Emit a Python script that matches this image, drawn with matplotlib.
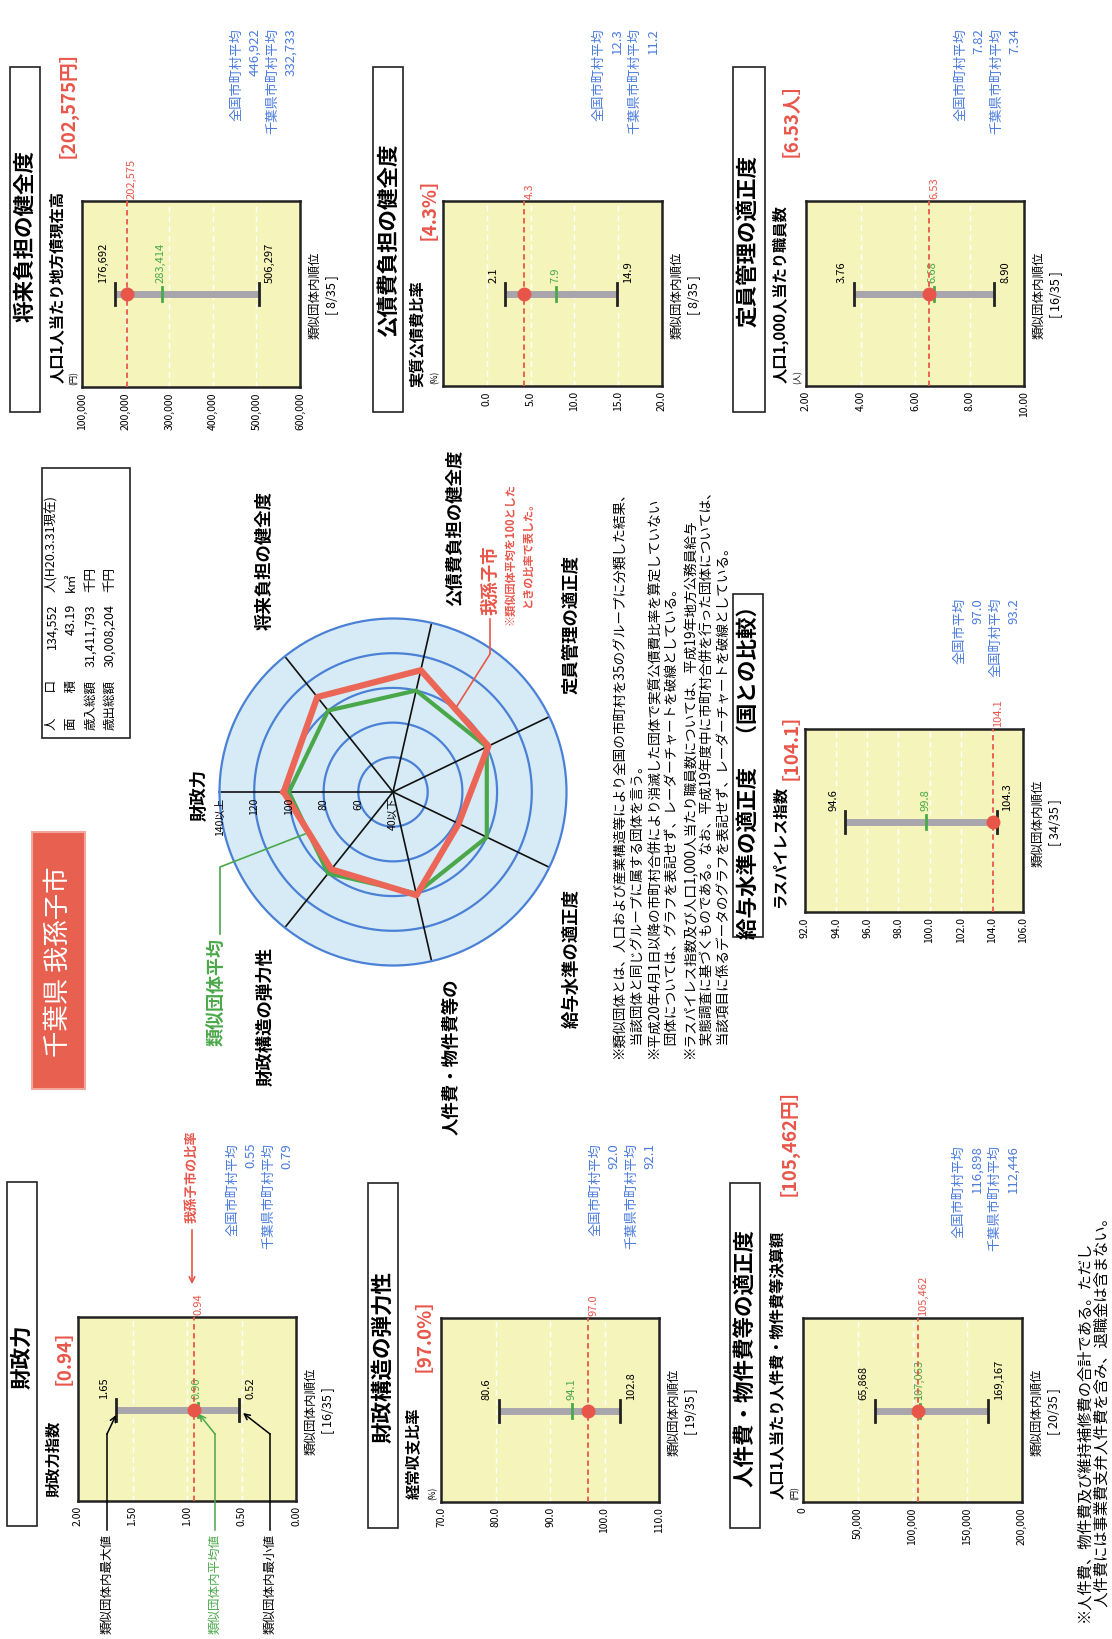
import numpy as np
import matplotlib
matplotlib.use('Agg')
import matplotlib.pyplot as plt
from matplotlib.patches import Rectangle

plt.rcParams['font.family'] = ['Noto Sans CJK JP', 'DejaVu Sans']

W, H = 1112, 1640
RED = '#e8564a'
GREEN = '#4aa84a'
BLUE = '#4a7bdc'
YELLOW = '#f5f4bb'
GRAY = '#a8a5ad'

# ---- panel data (order: 財政力, 財政構造, 人件費, 将来負担, 公債費, 定員管理, 給与水準)
titles = ['財政力', '財政構造の弾力性', '人件費・物件費等の適正度',
          '将来負担の健全度', '公債費負担の健全度', '定員管理の適正度',
          '給与水準の適正度　（国との比較）']
subtitles = ['財政力指数', '経常収支比率', '人口1人当たり人件費・物件費等決算額',
             '人口1人当たり地方債現在高', '実質公債費比率', '人口1,000人当たり職員数',
             'ラスパイレス指数']
city_tags = ['［0.94］', '［97.0%］', '［105,462円］', '［202,575円］',
             '［4.3%］', '［6.53人］', '［104.1］']
city = [0.94, 97.0, 105462, 202575, 4.3, 6.53, 104.1]
grp_min = [0.52, 80.6, 65868, 176692, 2.1, 3.76, 94.6]
grp_max = [1.65, 102.8, 169167, 506297, 14.9, 8.90, 104.3]
grp_avg = [0.90, 94.1, 107063, 283414, 7.9, 6.68, 99.8]
ranks = ['16/35', '19/35', '20/35', '8/35', '8/35', '16/35', '34/35']
nat_names = ['全国市町村平均'] * 6 + ['全国市平均']
pref_names = ['千葉県市町村平均'] * 6 + ['全国町村平均']
nat_avg = [0.55, 92.0, 116898, 446922, 12.3, 7.82, 97.0]
pref_avg = [0.79, 92.1, 112446, 332733, 11.2, 7.34, 93.2]
fmts = ['{:.2f}', '{:.1f}', '{:,.0f}', '{:,.0f}', '{:.1f}', '{:.2f}', '{:.1f}']
limits = [(2.0, 0.0), (70, 110), (0, 200000), (100000, 600000), (-5, 20), (2, 10), (92, 106)]
ticks = [[2.0, 1.5, 1.0, 0.5, 0.0],
         [70, 80, 90, 100, 110],
         [0, 50000, 100000, 150000, 200000],
         [100000, 200000, 300000, 400000, 500000, 600000],
         [0, 5, 10, 15, 20],
         [2, 4, 6, 8, 10],
         [92, 94, 96, 98, 100, 102, 104, 106]]
units = ['', '(%)', '(円)', '(円)', '(%)', '(人)', '']

# ---- radar data
radar_labels = ['財政力', '将来負担の健全度', '公債費負担の健全度', '定員管理の適正度',
                '給与水準の適正度', '人件費・物件費等の', '財政構造の弾力性']
radar_city = [103, 110, 112, 101, 82, 101, 97]
radar_group = [100, 100, 100, 100, 100, 100, 100]
ring_values = [40, 60, 80, 100, 120, 140]
ring_labels = ['40以下', '60', '80', '100', '120', '140以上']

# ---- info box
info_labels = ['人　　口', '面　　積', '歳入総額', '歳出総額']
info_values = ['134,552', '43.19', '31,411,793', '30,008,204']
info_units = ['人(H20.3.31現在)', 'k㎡', '千円', '千円']

notes = ['※類似団体とは、人口および産業構造等により全国の市町村を35のグループに分類した結果、',
         '　当該団体と同じグループに属する団体を言う。',
         '※平成20年4月1日以降の市町村合併により消滅した団体で実質公債費比率を算定していない',
         '　団体については、グラフを表記せず、レーダーチャートを破線としている。',
         '※ラスパイレス指数及び人口1,000人当たり職員数については、平成19年地方公務員給与',
         '　実態調査に基づくものである。なお、平成19年度中に市町村合併を行った団体については、',
         '　当該項目に係るデータのグラフを表記せず、レーダーチャートを破線としている。']
foot = ['※人件費、物件費及び維持補修費の合計である。ただし',
        '　人件費には事業費支弁人件費を含み、退職金は含まない。']

# ---- layout in pixels of the (rotated) page
boxes = [(78, 1318, 296, 1502), (441, 1319, 659, 1503), (803, 1319, 1022, 1503),
         (82, 202, 300, 388), (443, 202, 662, 387), (806, 202, 1024, 387),
         (805, 730, 1023, 913)]
bar_y = [1411, 1412, 1412, 295, 295, 295, 823]
title_boxes = [(7, 1183, 37, 1527), (368, 1184, 398, 1529), (730, 1184, 760, 1529),
               (10, 68, 40, 413), (373, 68, 403, 413), (733, 68, 765, 413),
               (733, 595, 763, 938)]
title_y = [1357, 1357, 1358, 236, 240, 241, 767]
sub_x = [53, 413, 778, 57, 418, 780, 780]
sub_y = [1497, 1499, 1499, 383, 387, 383, 908]
tag_y = [1385, 1372, 1196, 158, 240, 157, 780]
blue_top = [1143, 1143, 1145, 28, 28, 28, 598]

fig = plt.figure(figsize=(W / 100, H / 100), dpi=100)
fig.patch.set_facecolor('white')


def frac_box(x0, y0, x1, y1):
    return [x0 / W, 1 - y1 / H, (x1 - x0) / W, (y1 - y0) / H]


ov = fig.add_axes([0, 0, 1, 1])
ov.set_xlim(0, W)
ov.set_ylim(H, 0)
ov.axis('off')
ov.patch.set_visible(False)
ov.set_zorder(10)


def vtext(x, y, s, va='center', **kw):
    return ov.text(x, y, s, rotation=90, ha='center', va=va, **kw)


# ---- range panels
for i in range(7):
    x0, y0, x1, y1 = boxes[i]
    yb = bar_y[i]
    fmt = fmts[i]
    ax = fig.add_axes(frac_box(x0, y0, x1, y1))
    ax.set_facecolor(YELLOW)
    lo, hi = limits[i]
    ax.set_xlim(lo, hi)
    ax.set_ylim(y1, y0)
    for t in ticks[i]:
        if min(lo, hi) < t < max(lo, hi):
            ax.axvline(t, color='white', lw=1, ls=(0, (4, 3)), zorder=1)
    ax.plot([grp_min[i], grp_max[i]], [yb, yb], color=GRAY, lw=5,
            solid_capstyle='butt', zorder=2)
    for v in (grp_min[i], grp_max[i]):
        ax.plot([v, v], [yb - 11, yb + 11], color='#222222', lw=2, zorder=3)
    ax.plot([grp_avg[i]] * 2, [yb - 7, yb + 7], color=GREEN, lw=2, zorder=3)
    ax.axvline(city[i], color=RED, lw=1.3, ls=(0, (3, 2)), zorder=4)
    ax.plot(city[i], yb, 'o', color=RED, ms=9, zorder=5)
    ax.set_xticks(ticks[i])
    ax.set_xticklabels([fmt.format(t) for t in ticks[i]])
    ax.tick_params(axis='x', length=0, pad=3, labelsize=7.5, labelrotation=90)
    ax.set_yticks([])
    for s in ax.spines.values():
        s.set_linewidth(1.8)
        s.set_color('#222222')

    if lo < hi:
        left_v, right_v = grp_min[i], grp_max[i]
    else:
        left_v, right_v = grp_max[i], grp_min[i]
    for v, dx, c in [(left_v, -12, 'black'), (right_v, 11, 'black'), (grp_avg[i], -1, GREEN)]:
        ax.annotate(fmt.format(v), xy=(v, yb - 12), xytext=(dx * 0.72, 0),
                    textcoords='offset points', rotation=90, ha='center', va='bottom',
                    fontsize=8, color=c, annotation_clip=False)
    ax.annotate(fmt.format(city[i]), xy=(city[i], y0 - 3), xytext=(5 * 0.72, 0),
                textcoords='offset points', rotation=90, ha='center', va='bottom',
                fontsize=8, color=RED, annotation_clip=False)

    tx0, ty0, tx1, ty1 = title_boxes[i]
    ov.add_patch(Rectangle((tx0, ty0), tx1 - tx0, ty1 - ty0, facecolor='white',
                           edgecolor='#222222', lw=1.2))
    vtext((tx0 + tx1) / 2, title_y[i], titles[i], fontsize=15.5, weight='bold')
    vtext(sub_x[i], sub_y[i], subtitles[i], va='bottom', fontsize=11, weight='bold')
    vtext(sub_x[i], tag_y[i], city_tags[i], va='bottom', fontsize=13.5,
          weight='bold', color=RED)
    vtext(x1 + 15, yb, '類似団体内順位', fontsize=9)
    vtext(x1 + 32, yb, '[ ' + ranks[i] + ' ]', fontsize=9)
    if units[i]:
        vtext(x0 - 8, y1 - 3, units[i], va='bottom', fontsize=6)
    vtext(x1 - 63, blue_top[i], nat_names[i], va='top', fontsize=9.5, color=BLUE)
    vtext(x1 - 45, blue_top[i], fmt.format(nat_avg[i]), va='top', fontsize=9.5, color=BLUE)
    vtext(x1 - 27, blue_top[i], pref_names[i], va='top', fontsize=9.5, color=BLUE)
    vtext(x1 - 9, blue_top[i], fmt.format(pref_avg[i]), va='top', fontsize=9.5, color=BLUE)

# annotations of the 財政力 panel
vtext(192, 1223, '我孫子市の比率', va='bottom', fontsize=9.5, weight='bold', color=RED)
ov.annotate('', xy=(192, 1288), xytext=(192, 1228),
            arrowprops=dict(arrowstyle='->', color=RED, lw=1.2))
for x, tip, txt, c in [(107, (116, 1416), '類似団体内最大値', 'black'),
                       (215, (199, 1415), '類似団体内平均値', GREEN),
                       (270, (243, 1414), '類似団体内最小値', 'black')]:
    vtext(x, 1634, txt, va='bottom', fontsize=9, color=c)
    ov.plot([x, x], [1531, 1435], color=c, lw=1.1)
    ov.annotate('', xy=tip, xytext=(x, 1435),
                arrowprops=dict(arrowstyle='->', color=c, lw=1.1, shrinkA=0, shrinkB=0))

# ---- radar chart
cx, cy, R = 393, 793, 173.5
rad = fig.add_axes(frac_box(cx - R, cy - R, cx + R, cy + R), projection='polar')
rad.set_theta_zero_location('W')
rad.set_theta_direction(-1)
rad.set_ylim(40, 140)
rad.set_facecolor('#d6ebf5')
rad.set_xticks([])
rad.set_yticks([])
rad.grid(False)
rad.spines['polar'].set_color('#4a80d6')
rad.spines['polar'].set_linewidth(1.6)
circ = np.linspace(0, 2 * np.pi, 200)
for r in ring_values[1:-1]:
    rad.plot(circ, [r] * len(circ), color='#4a80d6', lw=1.6)
angles = [2 * np.pi * k / len(radar_labels) for k in range(len(radar_labels))]
for a in angles:
    rad.plot([a, a], [40, 140], color='#111111', lw=1.2)
closed = angles + angles[:1]
rad.plot(closed, radar_group + radar_group[:1], color=GREEN, lw=3)
rad.plot(closed, radar_city + radar_city[:1], color='#ec6658', lw=4.5)

for v, s in zip(ring_values, ring_labels):
    vtext(cx - (v - 40) / 100 * R, cy + 5, s, va='top', fontsize=7.5)

radar_pos = [(200, 795), (265, 561), (455, 528), (572, 625), (572, 958), (452, 1057), (266, 1016)]
for (x, y), s in zip(radar_pos, radar_labels):
    vtext(x, y, s, fontsize=12.5, weight='bold')

vtext(490, 615, '我孫子市', va='bottom', fontsize=12.5, weight='bold', color=RED)
vtext(510, 625, '※類似団体平均を100とした', va='bottom', fontsize=8, weight='bold', color=RED)
vtext(527, 608, 'ときの比率で表した。', va='bottom', fontsize=8, weight='bold', color=RED)
ov.plot([490, 490, 457], [620, 655, 707], color=RED, lw=1.2)
vtext(217, 938, '類似団体平均', va='top', fontsize=13, weight='bold', color=GREEN)
ov.plot([220, 220, 305], [935, 868, 835], color=GREEN, lw=1.2)

# ---- title and info box
ov.add_patch(Rectangle((32, 833), 53, 257, facecolor='#e8604f', edgecolor='#f2a79c', lw=1.5))
vtext(58, 962, '千葉県 我孫子市', fontsize=19, color='white')
ov.add_patch(Rectangle((42, 469), 88, 270, facecolor='white', edgecolor='#222222', lw=1.2))
for k, x in enumerate([52, 71, 91, 110]):
    vtext(x, 730, info_labels[k], va='bottom', fontsize=9)
    vtext(x, 604, info_values[k], va='top', fontsize=9)
    vtext(x, 592, info_units[k], va='bottom', fontsize=9)

# ---- notes
for k, line in enumerate(notes):
    vtext(620 + k * 17.5, 1059, line, va='bottom', fontsize=9.8)
for k, line in enumerate(foot):
    vtext(1084 + k * 18, 1622, line, va='bottom', fontsize=11)

fig.savefig('out.png', dpi=100)
